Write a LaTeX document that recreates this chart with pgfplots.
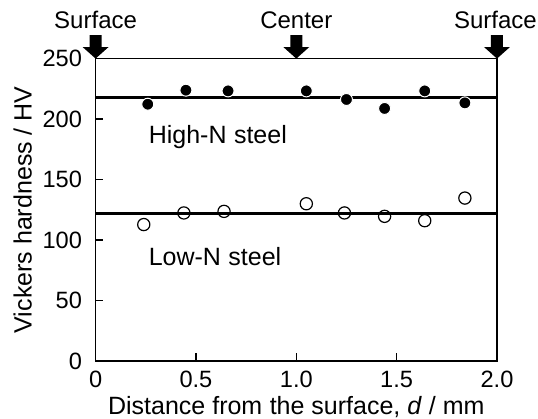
\documentclass[border=0pt]{standalone}
\usepackage{fontspec}
\setmainfont{Liberation Sans}
\usepackage{pgfplots}
\pgfplotsset{compat=1.18}
\begin{document}
\begin{tikzpicture}
\path[use as bounding box] (-47.8pt,-29pt) rectangle (221.2pt,180.5pt);
\begin{axis}[
  at={(0,0)}, anchor=south west,
  scale only axis,
  width=200.7pt, height=151.2pt,
  xmin=0, xmax=2, ymin=0, ymax=250,
  axis line style={line width=0.6pt},
  xtick={0,0.5,1,1.5,2},
  xticklabels={0,0.5,1.0,1.5,2.0},
  ytick={0,50,100,150,200,250},
  tick pos=left,
  tick align=inside,
  major tick length=3.8pt,
  tick style={line width=0.6pt, black},
  /pgf/number format/assume math mode=true,
  every tick label/.append style={font=\fontsize{11.8}{13}\selectfont},
  yticklabel style={inner sep=0pt, xshift=-6.6pt},
  xticklabel style={inner sep=0pt, yshift=-5pt},
  xlabel={Distance from\hspace{0.3em}the surface, \textit{d} / mm},
  ylabel={Vickers hardness / HV},
  label style={font=\fontsize{12.5}{14}\selectfont},
  xlabel style={at={([yshift=-27pt]axis description cs:0.5,0)}, anchor=base, inner sep=0pt},
  ylabel style={at={([xshift=-32pt]axis description cs:0,0.5)}, anchor=base, inner sep=0pt},
  clip=false,
]
\addplot[black, line width=1.6pt] coordinates {(0,218) (2,218)};
\addplot[black, line width=1.6pt] coordinates {(0,122) (2,122)};
\addplot[only marks, mark=*, mark size=3pt, mark options={fill=black, draw=white, line width=0.5pt}]
  coordinates {(0.26,212.3) (0.45,223.9) (0.66,223.3) (1.05,223.3) (1.25,216.2) (1.44,208.8) (1.64,223.3) (1.84,213.4)};
\addplot[only marks, mark=o, mark size=3.05pt, mark options={fill=white, draw=black, line width=0.6pt}]
  coordinates {(0.24,112.8) (0.44,122.4) (0.64,123.7) (1.05,130) (1.24,122.4) (1.44,119.6) (1.64,116) (1.84,134.7)};
\node[anchor=west, inner sep=0pt, font=\fontsize{12.5}{14}\selectfont] at (axis cs:0.263,185) {High-N\hspace{0.3em}steel};
\node[anchor=west, inner sep=0pt, font=\fontsize{12.5}{14}\selectfont] at (axis cs:0.263,86) {Low-N\hspace{0.3em}steel};
\fill[black] (axis cs:0,250) -- ++(-6.5pt,5.8pt) -- ++(3.5pt,0) -- ++(0,5.9pt) -- ++(6pt,0) -- ++(0,-5.9pt) -- ++(3.5pt,0) -- cycle;
\fill[black] (axis cs:1,250) -- ++(-6.5pt,5.8pt) -- ++(3.5pt,0) -- ++(0,5.9pt) -- ++(6pt,0) -- ++(0,-5.9pt) -- ++(3.5pt,0) -- cycle;
\fill[black] (axis cs:2,250) -- ++(-6.5pt,5.8pt) -- ++(3.5pt,0) -- ++(0,5.9pt) -- ++(6pt,0) -- ++(0,-5.9pt) -- ++(3.5pt,0) -- cycle;
\node[anchor=base, inner sep=0pt, font=\fontsize{12}{14}\selectfont] at ([yshift=15.3pt]axis cs:0,250) {Surface};
\node[anchor=base, inner sep=0pt, font=\fontsize{12}{14}\selectfont] at ([yshift=15.3pt]axis cs:1,250) {Center};
\node[anchor=base, inner sep=0pt, font=\fontsize{12}{14}\selectfont] at ([yshift=15.3pt,xshift=-0.8pt]axis cs:2,250) {Surface};
\end{axis}
\end{tikzpicture}
\end{document}
